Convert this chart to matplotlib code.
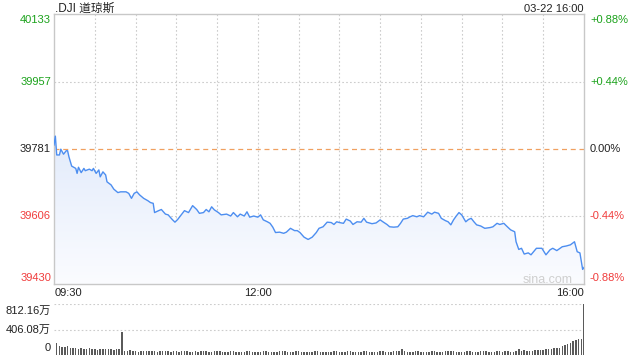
import numpy as np
import matplotlib
matplotlib.use("Agg")
import matplotlib.pyplot as plt
from matplotlib.colors import LinearSegmentedColormap
import matplotlib.transforms as mtransforms

plt.rcParams['font.family'] = ['Liberation Sans', 'Noto Sans CJK SC', 'DejaVu Sans']

# ---- data ----
title = ".DJI 道琼斯"
stamp = "03-22 16:00"
prev_close = 39781
y_ticks = [40133, 39957, 39781, 39606, 39430]
pct_labels = ["+0.88%", "+0.44%", "0.00%", "-0.44%", "-0.88%"]
x_labels = ["09:30", "12:00", "16:00"]

# minutes after 09:30
minutes = [0, 1, 2, 4, 5, 7, 9, 10, 11, 13, 16, 17, 18, 20, 22, 23, 26, 28, 29, 31,
           33, 34, 36, 38, 39, 42, 44, 47, 49, 53, 55, 57, 59, 61, 63, 66, 69, 71, 73, 74,
           77, 79, 82, 84, 87, 89, 91, 94, 96, 99, 102, 105, 107, 110, 112, 114, 116, 118, 121, 123,
           127, 130, 132, 135, 137, 140, 142, 144, 147, 150, 152, 154, 157, 159, 161, 163, 166, 169, 171, 174,
           177, 179, 181, 184, 187, 190, 193, 195, 198, 201, 204, 206, 208, 210, 213, 215, 218, 220, 223, 226,
           228, 230, 234, 237, 240, 242, 245, 247, 250, 253, 255, 257, 260, 262, 264, 267, 269, 272, 275, 278,
           280, 283, 285, 288, 290, 292, 294, 296, 298, 300, 303, 305, 307, 309, 311, 314, 317, 321, 323, 326,
           328, 331, 333, 336, 339, 340, 342, 344, 346, 349, 351, 354, 355, 359, 362, 365, 367, 370, 374, 377,
           380, 383, 385, 387, 389, 390]
prices = [39792, 39815, 39766, 39766, 39781, 39768, 39777, 39777, 39761, 39737, 39731, 39718, 39734, 39720, 39731, 39725, 39729, 39725, 39731, 39718,
          39727, 39709, 39722, 39714, 39696, 39688, 39677, 39668, 39670, 39670, 39666, 39653, 39666, 39670, 39662, 39653, 39647, 39642, 39640, 39616,
          39621, 39624, 39612, 39610, 39598, 39591, 39598, 39612, 39621, 39616, 39634, 39624, 39614, 39616, 39624, 39618, 39631, 39623, 39616, 39610,
          39612, 39607, 39616, 39605, 39612, 39607, 39618, 39604, 39607, 39604, 39610, 39597, 39592, 39588, 39578, 39564, 39565, 39562, 39565, 39575,
          39569, 39569, 39564, 39552, 39546, 39552, 39564, 39575, 39579, 39591, 39590, 39585, 39592, 39590, 39588, 39599, 39594, 39585, 39592, 39591,
          39601, 39591, 39587, 39589, 39597, 39592, 39585, 39579, 39578, 39579, 39588, 39599, 39601, 39605, 39608, 39605, 39608, 39605, 39617, 39612,
          39617, 39614, 39601, 39595, 39592, 39584, 39597, 39607, 39616, 39610, 39592, 39598, 39601, 39592, 39584, 39581, 39575, 39577, 39579, 39588,
          39585, 39588, 39581, 39571, 39566, 39540, 39520, 39523, 39508, 39511, 39506, 39519, 39523, 39523, 39506, 39519, 39523, 39517, 39527, 39529,
          39532, 39540, 39514, 39511, 39468, 39473]

vol_max = 812.16
vol_ticks = [812.16, 406.08, 0]
vol_tick_labels = ["812.16万", "406.08万", "0"]
# 2-minute volume bars (万)
volumes = [190, 150, 130, 135, 140, 120,
           115, 110, 95, 105, 100, 90, 110, 95, 90, 85, 100, 95, 90, 100, 95, 85, 90, 95,
           371,
           70, 65, 75, 70, 60, 55, 60, 65, 58, 62, 70, 60, 55, 58, 62, 66, 58, 55, 60, 62, 55, 60, 58, 62, 56,
           55, 60, 52, 58, 62, 65, 55, 50, 58, 60, 62, 55, 48, 52, 58, 60, 55, 50, 52, 56,
           62, 58, 55, 50, 48, 52, 58, 62, 55, 50, 52, 56, 60, 65, 58, 52, 50, 55, 58, 62,
           55, 52, 48, 50, 55, 58, 60, 56, 52, 50,
           52, 55, 58, 60, 55, 50, 52, 58, 62, 56, 52, 50, 55, 58, 60, 55, 52, 50, 55, 58,
           60, 56, 52, 55, 58, 62, 58, 90, 60, 55, 52, 56, 58, 60, 55, 52, 50, 55, 58, 62,
           56, 52, 55, 58, 60, 65, 58, 55, 52, 50,
           55, 58, 60, 56, 52, 55, 58, 62, 58, 55, 52, 55, 58, 60, 55, 58, 62, 56, 55, 60,
           95, 70, 75, 72, 68, 70, 75, 78, 80, 85, 90, 95, 100, 110, 120, 115, 140, 160, 175, 190,
           220, 235, 250, 260, 812]
vol_minutes = list(range(2, 391, 2))

# ---- styling ----
GREEN = '#1ba21b'
RED = '#f03c3c'
BLACK = '#222222'
GRID = '#cccccc'
LINE = '#4d8ef0'

W, H = 640, 360
fig = plt.figure(figsize=(6.4, 3.6), dpi=100)
ax = fig.add_axes([54 / W, 1 - 284 / H, 530 / W, 270 / H])
vax = fig.add_axes([54 / W, 1 - 355 / H, 530 / W, 51 / H])

ymin, ymax = y_ticks[-1], y_ticks[0]
ax.set_xlim(0, 390)
ax.set_ylim(ymin, ymax)
ax.set_xticks([])
ax.set_yticks([])
for s in ax.spines.values():
    s.set_color('#c8c8c8')
    s.set_linewidth(1)

# grid
for m in range(30, 390, 30):
    ax.axvline(m, color=GRID, lw=0.8, ls=(0, (1.5, 2)), zorder=1)
for v in (y_ticks[1], y_ticks[3]):
    ax.axhline(v, color=GRID, lw=0.8, ls=(0, (1.5, 2)), zorder=1)
ax.axhline(prev_close, color='#f0a060', lw=0.9, ls=(0, (4, 3)), zorder=1)

# gradient fill
poly = ax.fill_between(minutes, prices, ymin, facecolor='none', edgecolor='none')
grad = np.linspace(1, 0, 256).reshape(-1, 1)
cmap = LinearSegmentedColormap.from_list('g', ['#fbfcff', '#e2ebfb'])
im = ax.imshow(grad, extent=[0, 390, ymin, max(prices)], aspect='auto', cmap=cmap,
               origin='upper', zorder=2, interpolation='bilinear')
im.set_clip_path(poly.get_paths()[0], transform=ax.transData)
ax.set_xlim(0, 390)
ax.set_ylim(ymin, ymax)

ax.plot(minutes, prices, color=LINE, lw=1.0, zorder=3, solid_joinstyle='round')

# y labels
colors = [GREEN, GREEN, BLACK, RED, RED]
offsets = [-6, 0, 0, 0, 6]
for v, lab, c, off in zip(y_ticks, pct_labels, colors, offsets):
    trL = mtransforms.offset_copy(ax.get_yaxis_transform(), fig=fig, x=-3, y=off, units='dots')
    ax.text(0, v, f"{v}", transform=trL, ha='right', va='center', fontsize=8, color=c)
    trR = mtransforms.offset_copy(ax.get_yaxis_transform(), fig=fig, x=6, y=off, units='dots')
    ax.text(1, v, lab, transform=trR, ha='left', va='center', fontsize=8, color=c)

# x labels
fig.text(55 / W, 1 - 293.5 / H, x_labels[0], ha='left', va='center', fontsize=8, color=BLACK)
ax.text(150, 0, x_labels[1], transform=mtransforms.offset_copy(ax.get_xaxis_transform(), fig=fig, y=-9.5, units='dots'),
        ha='center', va='center', fontsize=8, color=BLACK)
fig.text(584 / W, 1 - 293.5 / H, x_labels[2], ha='right', va='center', fontsize=8, color=BLACK)

# title
fig.text(55 / W, 1 - 9 / H, title, ha='left', va='center', fontsize=8.5, color=BLACK)
fig.text(584 / W, 1 - 9.5 / H, stamp, ha='right', va='center', fontsize=8, color=BLACK)

# watermark
ax.text(573 / W, 1 - 280 / H, "sina.com", transform=fig.transFigure, ha='right', va='center',
        fontsize=9, color='#cfcfcf', zorder=4)

# volume
vax.set_xlim(0, 390)
vax.set_ylim(0, vol_max * 1.005)
vax.set_xticks([])
vax.set_yticks([])
for s in vax.spines.values():
    s.set_visible(False)
for v in vol_ticks[:2]:
    vax.axhline(v, color=GRID, lw=0.8, ls=(0, (1.5, 2)), zorder=1)
vax.bar(vol_minutes, volumes, width=1.1, color='#5a5a5a', zorder=2, align='center')
voffs = [-7, 0, 7]
for v, lab, off in zip(vol_ticks, vol_tick_labels, voffs):
    tr = mtransforms.offset_copy(vax.get_yaxis_transform(), fig=fig, x=-3, y=off, units='dots')
    vax.text(0, v, lab, transform=tr, ha='right', va='center', fontsize=8, color=BLACK)

fig.savefig("out.png", dpi=100)
